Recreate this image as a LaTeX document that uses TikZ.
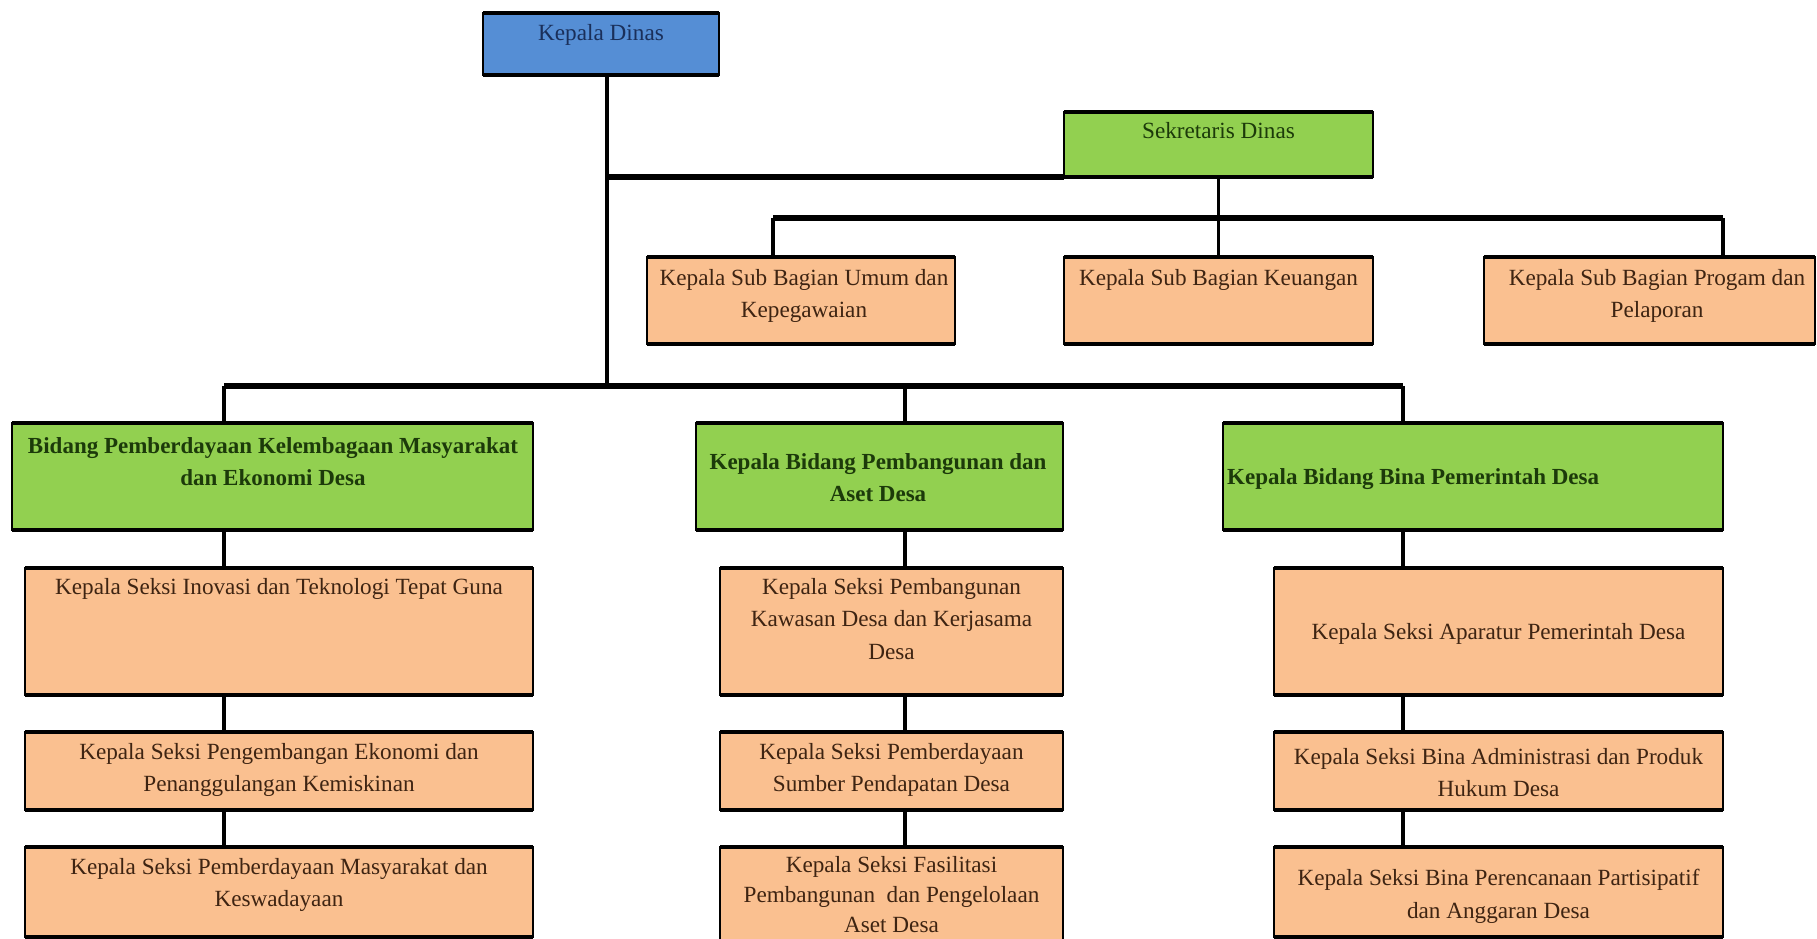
\documentclass[tikz,border=0pt]{standalone}
\usepackage{fontspec}
\setmainfont{Liberation Serif}
\definecolor{bluefill}{HTML}{558ED5}
\definecolor{greenfill}{HTML}{92D050}
\definecolor{peachfill}{HTML}{FAC090}
\definecolor{navytext}{HTML}{1A2F5A}
\definecolor{greentext}{HTML}{1C3A0A}
\definecolor{browntext}{HTML}{3E2412}
\tikzset{
  box/.style={draw=black, line width=2.2pt, inner sep=0pt, outer sep=0pt,
    append after command={
      (\tikzlastnode.north west) edge[line width=4.5pt, draw=black] (\tikzlastnode.north east)
      (\tikzlastnode.south west) edge[line width=4.5pt, draw=black] (\tikzlastnode.south east)}},
  bluebox/.style={box, fill=bluefill},
  greenbox/.style={box, fill=greenfill},
  peachbox/.style={box, fill=peachfill},
  txt/.style={inner sep=0pt, align=center, anchor=north, font=\fontsize{23.2}{32.5}\selectfont},
  boldtxt/.style={txt, font=\fontsize{23}{32}\selectfont\bfseries},
  thin/.style={draw=black, line width=3.5pt},
  bus/.style={draw=black, line width=6pt},
}
\begin{document}
\begin{tikzpicture}[x=1pt, y=-1pt]
\useasboundingbox (0,0) rectangle (1817,939);
\clip (0,0) rectangle (1817,939);
% junction coordinates
\coordinate (j1) at (607,177);
\coordinate (j2) at (607,389);
\coordinate (sbl) at (773,218);
\coordinate (sbr) at (1723,218);
\coordinate (bl) at (224,386);
\coordinate (bm) at (905,386);
\coordinate (br) at (1403,386);
% boxes
\node[bluebox, minimum width=236, minimum height=62] (kd) at (601,44) {};
\node[greenbox, minimum width=309, minimum height=65] (sd) at (1218.5,144.5) {};
\node[peachbox, minimum width=308, minimum height=87] (su) at (801,300.5) {};
\node[peachbox, minimum width=309, minimum height=87] (sk) at (1218.5,300.5) {};
\node[peachbox, minimum width=331, minimum height=87] (sp) at (1649.5,300.5) {};
\node[greenbox, minimum width=521, minimum height=107] (b1) at (272.5,476.5) {};
\node[greenbox, minimum width=367, minimum height=107] (b2) at (879.5,476.5) {};
\node[greenbox, minimum width=500, minimum height=107] (b3) at (1473,476.5) {};
\node[peachbox, minimum width=508, minimum height=127] (s11) at (279,631.5) {};
\node[peachbox, minimum width=343, minimum height=127] (s21) at (891.5,631.5) {};
\node[peachbox, minimum width=449, minimum height=127] (s31) at (1498.5,631.5) {};
\node[peachbox, minimum width=508, minimum height=78] (s12) at (279,771) {};
\node[peachbox, minimum width=343, minimum height=78] (s22) at (891.5,771) {};
\node[peachbox, minimum width=449, minimum height=78] (s32) at (1498.5,771) {};
\node[peachbox, minimum width=508, minimum height=90] (s13) at (279,892) {};
\node[peachbox, minimum width=343, minimum height=113] (s23) at (891.5,903.5) {};
\node[peachbox, minimum width=449, minimum height=90] (s33) at (1498.5,892) {};
% texts
\node[txt, text=navytext] (kdt) at (601,24) {Kepala Dinas};
\node[txt, text=greentext] (sdt) at (1218.5,122.5) {Sekretaris Dinas};
\node[txt, text=browntext] (sut) at (804,269) {Kepala Sub Bagian Umum dan\\Kepegawaian};
\node[txt, text=browntext] (skt) at (1218.5,269) {Kepala Sub Bagian Keuangan};
\node[txt, text=browntext] (spt) at (1657,269) {Kepala Sub Bagian Progam dan\\Pelaporan};
\node[boldtxt, text=greentext] (b1t) at (273,437) {Bidang Pemberdayaan Kelembagaan Masyarakat\\dan Ekonomi Desa};
\node[boldtxt, text=greentext] (b2t) at (878,453) {Kepala Bidang Pembangunan dan\\Aset Desa};
\node[boldtxt, text=greentext, anchor=north west] (b3t) at (1227,468) {Kepala Bidang Bina Pemerintah Desa};
\node[txt, text=browntext] (s11t) at (279,578) {Kepala Seksi Inovasi dan Teknologi Tepat Guna};
\node[txt, text=browntext] (s21t) at (891.5,578) {Kepala Seksi Pembangunan\\Kawasan Desa dan Kerjasama\\Desa};
\node[txt, text=browntext] (s31t) at (1498.5,623) {Kepala Seksi Aparatur Pemerintah Desa};
\node[txt, text=browntext] (s12t) at (279,743) {Kepala Seksi Pengembangan Ekonomi dan\\Penanggulangan Kemiskinan};
\node[txt, text=browntext] (s22t) at (891.5,743) {Kepala Seksi Pemberdayaan\\Sumber Pendapatan Desa};
\node[txt, text=browntext] (s32t) at (1498.5,748) {Kepala Seksi Bina Administrasi dan Produk\\Hukum Desa};
\node[txt, text=browntext] (s13t) at (279,858) {Kepala Seksi Pemberdayaan Masyarakat dan\\Keswadayaan};
\node[txt, text=browntext, font=\fontsize{23.2}{30}\selectfont] (s23t) at (891.5,856) {Kepala Seksi Fasilitasi\\Pembangunan\ \ dan Pengelolaan\\Aset Desa};
\node[txt, text=browntext] (s33t) at (1498.5,869) {Kepala Seksi Bina Perencanaan Partisipatif\\dan Anggaran Desa};
% connectors
\draw[thin] (kd.south -| j1) -- (j2);
\draw[bus] (j1) -- (sd.south west);
\draw[thin] (sd.south) -- (sk.north);
\draw[bus] (sbl) -- (sbr);
\draw[thin] (sbl) -- (su.north -| sbl);
\draw[thin] (sbr) -- (sp.north -| sbr);
\draw[bus] (bl) -- (br);
\draw[thin] (bl) -- (b1.north -| bl);
\draw[thin] (bm) -- (b2.north -| bm);
\draw[thin] (br) -- (b3.north -| br);
\draw[thin] (b1.south -| bl) -- (s11.north -| bl);
\draw[thin] (s11.south -| bl) -- (s12.north -| bl);
\draw[thin] (s12.south -| bl) -- (s13.north -| bl);
\draw[thin] (b2.south -| bm) -- (s21.north -| bm);
\draw[thin] (s21.south -| bm) -- (s22.north -| bm);
\draw[thin] (s22.south -| bm) -- (s23.north -| bm);
\draw[thin] (b3.south -| br) -- (s31.north -| br);
\draw[thin] (s31.south -| br) -- (s32.north -| br);
\draw[thin] (s32.south -| br) -- (s33.north -| br);
\end{tikzpicture}
\end{document}
